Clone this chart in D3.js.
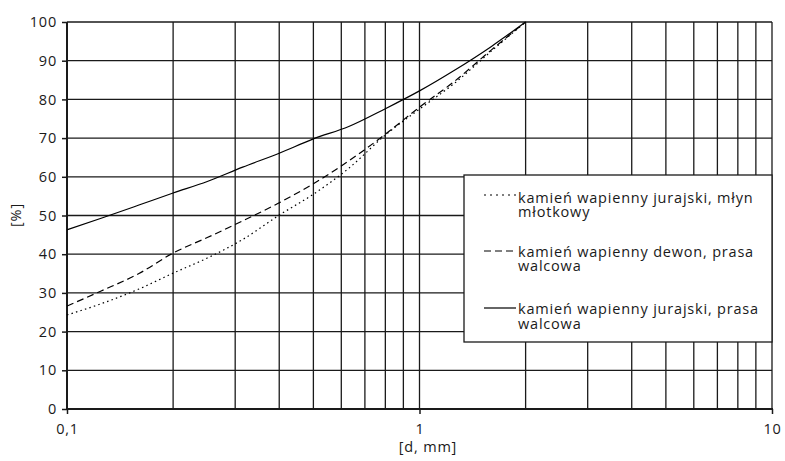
<!DOCTYPE html>
<html><head><meta charset="utf-8">
<script src="https://cdn.jsdelivr.net/npm/d3@7"></script>
<style>body{margin:0;background:#fff}svg{display:block}text{font-family:"Open Sans",sans-serif;fill:#1a1a1a;letter-spacing:0.8px}</style>
</head><body><svg id="c" width="785" height="461"></svg>
<script>
const sieves = [0.1, 0.125, 0.16, 0.2, 0.25, 0.315, 0.4, 0.5, 0.63, 0.8, 1, 1.25, 1.6, 2];
const jurajskiMlyn = [24.3, 27.2, 31, 35.1, 39, 43.8, 50.1, 55.5, 62.2, 70.8, 77.5, 84, 92.5, 100];
const dewonPrasa = [26.6, 30.5, 35, 40.3, 44.3, 48.6, 53.3, 58.2, 64.1, 71, 78, 84.5, 92.8, 100];
const jurajskiPrasa = [46.3, 49.3, 52.7, 55.8, 58.8, 62.5, 66.1, 69.8, 73, 77.6, 82.2, 87.4, 93.7, 100];
const seriesNames = ["kamień wapienny jurajski, młyn młotkowy", "kamień wapienny dewon, prasa walcowa", "kamień wapienny jurajski, prasa walcowa"];
const legendLines = [["kamień wapienny jurajski, młyn", "młotkowy"], ["kamień wapienny dewon, prasa", "walcowa"], ["kamień wapienny jurajski, prasa", "walcowa"]];
const xTickLabels = ["0,1", "1", "10"];
const xTickValues = [0.1, 1, 10];
const yTickValues = [0,10,20,30,40,50,60,70,80,90,100];
const xGrid = [0.2,0.3,0.4,0.5,0.6,0.7,0.8,0.9,1,2,3,4,5,6,7,8,9,10];

const svg = d3.select("#c");
const L = 67, R = 772, T = 22, B = 409;
const x = d3.scaleLog().domain([0.1, 10]).range([L, R]);
const y = d3.scaleLinear().domain([0, 100]).range([B, T]);
const ink = "#1a1a1a";
const fs = "14.5px";

// grid
svg.append("g").selectAll("line").data(yTickValues.slice(1)).join("line")
  .attr("x1", L).attr("x2", R).attr("y1", d => y(d)).attr("y2", d => y(d))
  .attr("stroke", ink).attr("stroke-width", 1.3);
svg.append("g").selectAll("line").data(xGrid).join("line")
  .attr("x1", d => x(d)).attr("x2", d => x(d)).attr("y1", T).attr("y2", B)
  .attr("stroke", ink).attr("stroke-width", 1.3);

// axes
const yAxis = svg.append("g").attr("transform", `translate(${L},0)`)
  .call(d3.axisLeft(y).tickValues(yTickValues).tickSize(5).tickPadding(5).tickFormat(d3.format("d")));
const xAxis = svg.append("g").attr("transform", `translate(0,${B})`)
  .call(d3.axisBottom(x).tickValues(xTickValues).tickSize(5).tickPadding(10).tickFormat((d,i) => xTickLabels[i]));
[yAxis, xAxis].forEach(g => {
  g.select(".domain").attr("stroke", ink).attr("stroke-width", 2);
  g.selectAll(".tick line").attr("stroke", ink).attr("stroke-width", 1.5);
  g.selectAll("text").style("font-family", '"Open Sans", sans-serif').style("font-size", fs).attr("fill", ink);
});
yAxis.select(".domain").attr("d", `M-0,${B}H0V${T}H-0`);
xAxis.select(".domain").attr("d", `M${L},0.5V0H${R}V0.5`);

// series
const styles = [{dash: "2,4"}, {dash: "7,4"}, {dash: null}];
const data = [jurajskiMlyn, dewonPrasa, jurajskiPrasa];
const line = d3.line().x(d => x(d[0])).y(d => y(d[1])).curve(d3.curveMonotoneX);
data.forEach((vals, i) => {
  svg.append("path").datum(sieves.map((s, j) => [s, vals[j]]))
    .attr("d", line).attr("fill", "none").attr("stroke", "#000").attr("stroke-width", 1.2)
    .attr("stroke-dasharray", i === 0 ? "1.5,3.2" : styles[i].dash);
});

// legend
const lg = svg.append("g");
lg.append("rect").attr("x", 464).attr("y", 175).attr("width", 308).attr("height", 167)
  .attr("fill", "#fff").attr("stroke", ink).attr("stroke-width", 1.3);
const sampleY = [195, 251, 308];
const baseY = [202.7, 256.5, 314.3];
legendLines.forEach((lines, i) => {
  lg.append("line").attr("x1", 484).attr("x2", 516).attr("y1", sampleY[i]).attr("y2", sampleY[i])
    .attr("stroke", "#000").attr("stroke-width", 1.2).attr("stroke-dasharray", styles[i].dash);
  const t = lg.append("text").attr("x", 518).attr("y", baseY[i]).style("font-size", fs);
  lines.forEach((s, k) => {
    t.append("tspan").attr("x", 518).attr("dy", k === 0 ? 0 : 14.6).text(s);
  });
});

// axis titles
svg.append("text").attr("x", 428).attr("y", 452).attr("text-anchor", "middle").style("font-size", fs).text("[d, mm]");
svg.append("text").attr("transform", "translate(21,215) rotate(-90)").attr("text-anchor", "middle").style("font-size", fs).text("[%]");
</script></body></html>
